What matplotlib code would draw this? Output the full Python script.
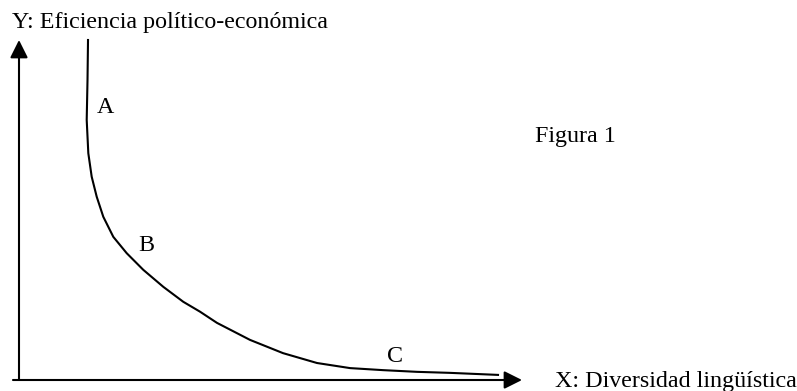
import matplotlib
matplotlib.use("Agg")
import matplotlib.pyplot as plt

plt.rcParams["font.family"] = "Liberation Serif"

# curve (x: diversity, y: efficiency, both 0-100)
curve_x = [13.72, 13.62, 13.46, 13.78, 14.45, 15.45, 16.76, 18.75, 21.41, 24.71,
           28.69, 32.66, 35.98, 39.36, 45.92, 52.49, 59.24, 65.81, 72.37, 79.13,
           85.69, 95.23]
curve_y = [100.0, 88.2, 76.5, 66.7, 59.8, 53.9, 48.0, 42.1, 37.3, 32.4,
           27.4, 23.0, 20.1, 16.8, 11.8, 7.9, 5.0, 3.5, 2.9, 2.4,
           2.1, 1.5]

point_labels = ["A", "B", "C"]
label_x = [15.5, 23.7, 73.2]
label_y = [78.5, 38.0, 5.3]

W, H = 797, 391
fig = plt.figure(figsize=(W / 100, H / 100), dpi=100)
ax = fig.add_axes([19 / W, 11 / H, 503 / W, 340 / H])
ax.set_xlim(0, 100)
ax.set_ylim(0, 100)
ax.axis("off")

ax.plot(curve_x, curve_y, color="black", lw=1.5, clip_on=False,
        solid_joinstyle="round")

arrow = dict(arrowstyle="-|>,head_length=0.9,head_width=0.45", color="black",
             lw=1.5, mutation_scale=12, shrinkA=0, shrinkB=0)
ax.annotate("", xy=(100, 0), xytext=(-1.2, 0), arrowprops=arrow, annotation_clip=False)
ax.annotate("", xy=(0, 100), xytext=(0, 0), arrowprops=arrow, annotation_clip=False)

fs = 17.3
for lab, lx, ly in zip(point_labels, label_x, label_y):
    ax.text(lx, ly, lab, fontsize=fs, ha="left", va="baseline")

fig.text(12 / W, 1 - 28 / H, "Y: Eficiencia político-económica", fontsize=fs,
         ha="left", va="baseline")
fig.text(535 / W, 1 - 142 / H, "Figura 1", fontsize=fs, ha="left", va="baseline")
fig.text(555 / W, 1 - 387 / H, "X: Diversidad lingüística", fontsize=fs,
         ha="left", va="baseline")

fig.savefig("out.png", dpi=100, facecolor="white")
